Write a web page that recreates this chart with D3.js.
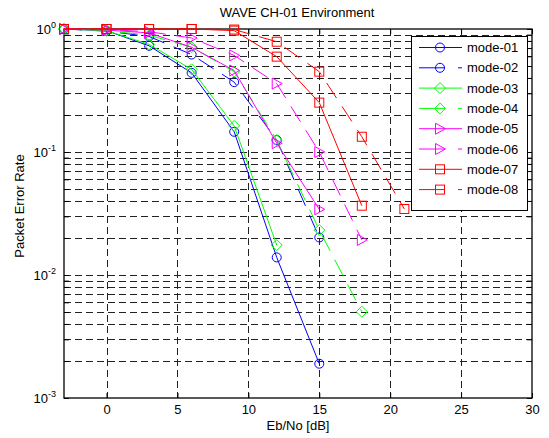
<!DOCTYPE html>
<html>
<head>
<meta charset="utf-8">
<script src="https://cdn.jsdelivr.net/npm/d3@7"></script>
<style>
    body { margin: 0; background: #fff; }
    svg { display: block; font-family: "Liberation Sans", Arial, sans-serif; }
</style>
</head>
<body>
<div id="chart"></div>
<script>
const snrDb = [-3, 0, 3, 6, 9, 12, 15, 18, 21];

const mode01 = [1.0, 0.97, 0.73, 0.44, 0.146, 0.0139, 0.0019];
const mode02 = [1.0, 0.96, 0.87, 0.62, 0.37, 0.125, 0.0202];
const mode03 = [1.0, 0.97, 0.75, 0.47, 0.163, 0.0175];
const mode04 = [1.0, 0.97, 0.89, 0.71, 0.45, 0.125, 0.0232, 0.00503];
const mode05 = [1.0, 0.98, 0.93, 0.71, 0.46, 0.118, 0.0342];
const mode06 = [1.0, 0.99, 0.95, 0.845, 0.61, 0.36, 0.10, 0.0193];
const mode07 = [1.0, 1.0, 1.0, 1.0, 0.97, 0.596, 0.252, 0.0366];
const mode08 = [1.0, 1.0, 1.0, 1.0, 0.99, 0.788, 0.45, 0.133, 0.0344];

const seriesNames = ["mode-01", "mode-02", "mode-03", "mode-04", "mode-05", "mode-06", "mode-07", "mode-08"];
const seriesValues = [mode01, mode02, mode03, mode04, mode05, mode06, mode07, mode08];
const seriesColors = ["#0000ff", "#0000ff", "#00ff00", "#00ff00", "#ff00ff", "#ff00ff", "#ff0000", "#ff0000"];
const seriesMarkers = ["circle", "circle", "diamond", "diamond", "triangle", "triangle", "square", "square"];
const seriesDashed = [false, true, false, true, false, true, false, true];

const xTicks = [0, 5, 10, 15, 20, 25, 30];
const yDecades = [0, -1, -2, -3];

const width = 549, height = 438;
const plot = { left: 64, right: 532, top: 29, bottom: 398 };
const dash = "18,10";

const svg = d3.select("#chart").append("svg")
    .attr("width", width)
    .attr("height", height);

const x = d3.scaleLinear().domain([-3, 30]).range([plot.left, plot.right]);
const y = d3.scaleLog().domain([1e-3, 1]).range([plot.bottom, plot.top]);

// minor + major positions on the log axis
let yGridValues = [];
for (let e = -3; e < 0; e += 1) {
    for (let k = 1; k <= 9; k += 1) yGridValues.push(k * Math.pow(10, e));
}

// grid
const grid = svg.append("g")
    .attr("stroke", "#222")
    .attr("stroke-width", 1)
    .attr("stroke-dasharray", "7,4");

grid.selectAll(".vgrid")
    .data(xTicks.filter(v => v > -3 && v < 30))
    .enter().append("line")
    .attr("x1", d => Math.round(x(d)) + 0.5)
    .attr("x2", d => Math.round(x(d)) + 0.5)
    .attr("y1", plot.top)
    .attr("y2", plot.bottom);

grid.selectAll(".hgrid")
    .data(yGridValues.filter(v => v > 1e-3 && v < 1))
    .enter().append("line")
    .attr("x1", plot.left)
    .attr("x2", plot.right)
    .attr("y1", d => Math.round(y(d)) + 0.5)
    .attr("y2", d => Math.round(y(d)) + 0.5);

// axes with inward ticks on all four sides
const tick = 5;
svg.append("g")
    .attr("transform", `translate(0,${plot.bottom})`)
    .call(d3.axisBottom(x).tickValues(xTicks).tickSize(-tick).tickPadding(7).tickFormat(d3.format("d")))
    .call(g => g.select(".domain").remove());

svg.append("g")
    .attr("transform", `translate(0,${plot.top})`)
    .call(d3.axisTop(x).tickValues(xTicks).tickSize(-tick).tickFormat(""))
    .call(g => g.select(".domain").remove());

svg.append("g")
    .attr("transform", `translate(${plot.left},0)`)
    .call(d3.axisLeft(y).tickValues(yGridValues.concat([1])).tickSize(-tick).tickFormat(""))
    .call(g => g.select(".domain").remove());

svg.append("g")
    .attr("transform", `translate(${plot.right},0)`)
    .call(d3.axisRight(y).tickValues(yGridValues.concat([1])).tickSize(-tick).tickFormat(""))
    .call(g => g.select(".domain").remove());

svg.selectAll(".tick line").attr("stroke", "#000");
svg.selectAll(".tick text")
    .attr("font-size", 13)
    .attr("font-family", "Liberation Sans, Arial, sans-serif")
    .attr("fill", "#000");

svg.append("rect")
    .attr("x", plot.left)
    .attr("y", plot.top)
    .attr("width", plot.right - plot.left)
    .attr("height", plot.bottom - plot.top)
    .attr("fill", "none")
    .attr("stroke", "#000")
    .attr("stroke-width", 1.3);

// y decade labels 10^k
const yLabels = svg.append("g").attr("font-size", 13).attr("fill", "#000");
yDecades.forEach(e => {
    const t = yLabels.append("text")
        .attr("x", plot.left - 8)
        .attr("y", y(Math.pow(10, e)) + 5)
        .attr("text-anchor", "end");
    t.append("tspan").text("10");
    t.append("tspan").attr("dy", -6).attr("font-size", 9).text(String(e));
});

// markers
function drawMarker(g, type, cx, cy) {
    if (type == "circle") {
        g.append("circle").attr("cx", cx).attr("cy", cy).attr("r", 4.5);
    } else if (type == "diamond") {
        g.append("path").attr("d", `M${cx},${cy - 5.5}L${cx + 5.5},${cy}L${cx},${cy + 5.5}L${cx - 5.5},${cy}Z`);
    } else if (type == "triangle") {
        g.append("path").attr("d", `M${cx + 5.5},${cy}L${cx - 4.5},${cy - 5.5}L${cx - 4.5},${cy + 5.5}Z`);
    } else {
        g.append("rect").attr("x", cx - 4.5).attr("y", cy - 4.5).attr("width", 9).attr("height", 9);
    }
}

const line = d3.line()
    .x(d => x(d[0]))
    .y(d => y(d[1]));

seriesValues.forEach((values, i) => {
    const points = values.map((v, j) => [snrDb[j], v]).filter(p => p[1] != null);
    const g = svg.append("g")
        .attr("fill", "none")
        .attr("stroke", seriesColors[i])
        .attr("stroke-width", 1);

    g.append("path")
        .datum(points)
        .attr("d", line)
        .attr("stroke-dasharray", seriesDashed[i] ? dash : null);

    points.forEach(p => drawMarker(g, seriesMarkers[i], x(p[0]), y(p[1])));
});

// legend
const legend = { left: 411, top: 36, right: 527, bottom: 210 };
svg.append("rect")
    .attr("x", legend.left + 0.5)
    .attr("y", legend.top + 0.5)
    .attr("width", legend.right - legend.left)
    .attr("height", legend.bottom - legend.top)
    .attr("fill", "#fff")
    .attr("stroke", "#000")
    .attr("stroke-width", 1);

seriesNames.forEach((name, i) => {
    const ly = 47.5 + i * 20.3;
    const g = svg.append("g")
        .attr("fill", "none")
        .attr("stroke", seriesColors[i])
        .attr("stroke-width", 1);
    g.append("line")
        .attr("x1", 419).attr("x2", 462)
        .attr("y1", ly).attr("y2", ly)
        .attr("stroke-dasharray", seriesDashed[i] ? "26,13" : null);
    drawMarker(g, seriesMarkers[i], 440, ly);
    svg.append("text")
        .attr("x", 467)
        .attr("y", ly + 4.5)
        .attr("font-size", 13)
        .attr("fill", "#000")
        .text(name);
});

// titles
svg.append("text")
    .attr("x", 297)
    .attr("y", 17)
    .attr("text-anchor", "middle")
    .attr("font-size", 13)
    .text("WAVE CH-01 Environment");

svg.append("text")
    .attr("x", 298)
    .attr("y", 430)
    .attr("text-anchor", "middle")
    .attr("font-size", 13)
    .text("Eb/No [dB]");

svg.append("text")
    .attr("transform", "translate(24,206) rotate(-90)")
    .attr("text-anchor", "middle")
    .attr("font-size", 13)
    .text("Packet Error Rate");
</script>
</body>
</html>
